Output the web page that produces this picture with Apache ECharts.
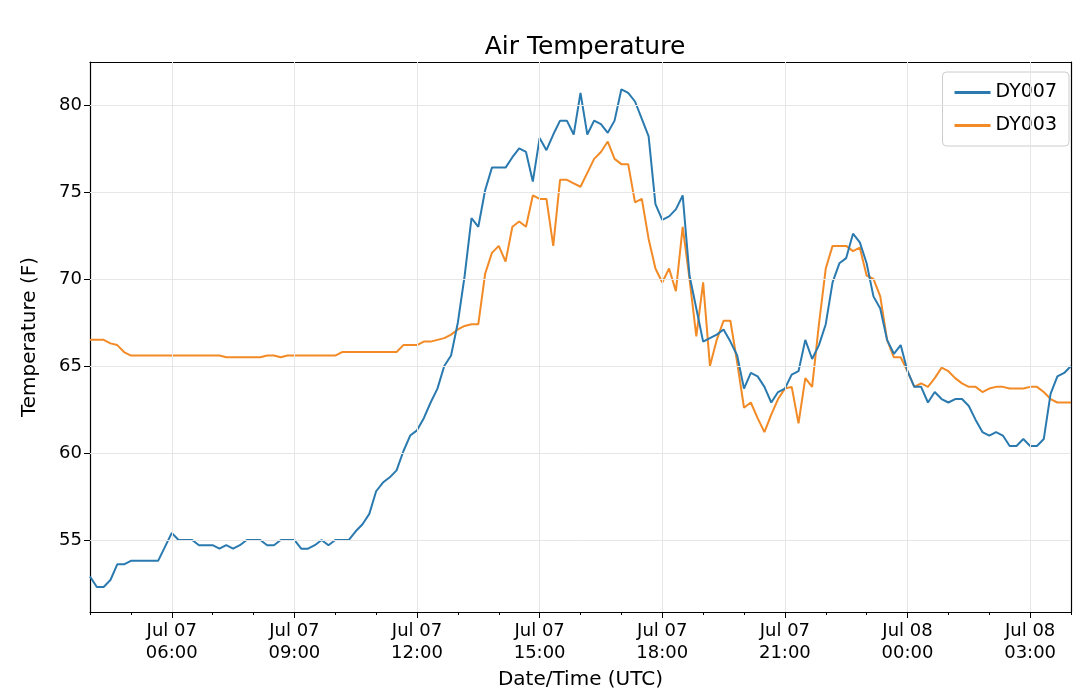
<!DOCTYPE html>
<html><head><meta charset="utf-8">
<script src="https://cdn.jsdelivr.net/npm/echarts@6/dist/echarts.min.js"></script>
<style>html,body{margin:0;padding:0;background:#fff}#c{width:1079px;height:697px}</style>
</head><body><div id="c"></div>
<script>
// 10-minute samples from Jul 07 04:00 to Jul 08 04:00 UTC (x in hours since Jul 07 00:00)
const startHour = 4, stepHours = 1/6;
const xTicks = [6, 9, 12, 15, 18, 21, 24, 27];
const xTickLabels = ['Jul 07\n06:00','Jul 07\n09:00','Jul 07\n12:00','Jul 07\n15:00','Jul 07\n18:00','Jul 07\n21:00','Jul 08\n00:00','Jul 08\n03:00'];
const yTicks = [55, 60, 65, 70, 75, 80];
const dy007 = [52.9,52.3,52.3,52.7,53.6,53.6,53.8,53.8,53.8,53.8,53.8,54.6,
 55.4,55.0,55.0,55.0,54.7,54.7,54.7,54.5,54.7,54.5,54.7,55.0,55.0,55.0,54.7,54.7,55.0,55.0,
 55.0,54.5,54.5,54.7,55.0,54.7,55.0,55.0,55.0,55.5,55.9,56.5,57.8,58.3,58.6,59.0,60.1,61.0,
 61.3,62.0,62.9,63.7,65.0,65.6,67.5,70.2,73.5,73.0,75.1,76.4,76.4,76.4,77.0,77.5,77.3,75.6,
 78.1,77.4,78.3,79.1,79.1,78.3,80.7,78.3,79.1,78.9,78.4,79.1,80.9,80.7,80.2,79.2,78.2,74.3,
 73.4,73.6,74.0,74.8,70.2,68.3,66.4,66.6,66.8,67.1,66.4,65.6,63.7,64.6,64.4,63.8,62.9,63.5,
 63.7,64.5,64.7,66.5,65.4,66.2,67.4,69.8,70.9,71.2,72.6,72.1,70.9,69.0,68.3,66.5,65.7,66.2,
 64.7,63.8,63.8,62.9,63.5,63.1,62.9,63.1,63.1,62.7,61.9,61.2,61.0,61.2,61.0,60.4,60.4,60.8,
 60.4,60.4,60.8,63.4,64.4,64.6,65.0];
const dy003 = [66.5,66.5,66.5,66.3,66.2,65.8,
 65.6,65.6,65.6,65.6,65.6,65.6,65.6,65.6,65.6,65.6,65.6,65.6,65.6,65.6,
 65.5,65.5,65.5,65.5,65.5,65.5,65.6,65.6,65.5,65.6,
 65.6,65.6,65.6,65.6,65.6,65.6,65.6,
 65.8,65.8,65.8,65.8,65.8,65.8,65.8,65.8,65.8,
 66.2,66.2,66.2,66.4,66.4,66.5,66.6,66.8,67.1,67.3,67.4,67.4,
 70.3,71.5,71.9,71.0,73.0,73.3,73.0,74.8,74.6,74.6,71.9,75.7,75.7,75.5,75.3,76.1,76.9,77.3,77.9,
 76.9,76.6,76.6,74.4,74.6,72.3,70.6,69.8,70.6,69.3,73.0,70.0,66.7,69.8,65.0,66.5,67.6,67.6,
 65.2,62.6,62.9,62.0,61.2,62.2,63.1,63.7,63.8,61.7,64.3,63.8,67.4,70.6,71.9,71.9,71.9,71.6,
 71.8,70.2,70.0,69.0,66.5,65.5,65.5,64.7,63.8,64.0,63.8,64.3,64.9,64.7,64.3,64.0,63.8,63.8,
 63.5,63.7,63.8,63.8,63.7,63.7,63.7,63.8,63.8,63.5,63.1,62.9,62.9,62.9];
const toPts = a => a.map((v,i)=>[startHour + i*stepHours, v]);
const labelMap = {}; xTicks.forEach((t,i)=>labelMap[t]=xTickLabels[i]);
const F = 'DejaVu Sans';
const chart = echarts.init(document.getElementById('c'));
const xBase = {type:'value', min:4, max:28, gridIndex:0};
chart.setOption({
  animation:false,
  title:{text:'Air Temperature', left:580, top:30, textAlign:'center',
    textStyle:{fontFamily:F, fontSize:25, fontWeight:'normal', color:'#000'}},
  legend:{right:10, top:72, orient:'vertical', itemWidth:36, itemHeight:3, itemGap:14,
    padding:[11,12,11,12], borderColor:'#ccc', borderWidth:1, borderRadius:4,
    icon:'rect', textStyle:{fontFamily:F, fontSize:19, color:'#000'},
    data:['DY007','DY003']},
  grid:{left:90, right:8, top:62, bottom:85},
  xAxis:[
    Object.assign({}, xBase, {
      name:'Date/Time (UTC)', nameLocation:'middle', nameGap:58,
      nameTextStyle:{fontFamily:F, fontSize:20, color:'#000'},
      axisLine:{show:true, onZero:false, lineStyle:{color:'#000', width:1.2}},
      axisTick:{show:true, length:6, customValues:xTicks, lineStyle:{color:'#000'}},
      axisLabel:{customValues:xTicks, fontFamily:F, fontSize:18, color:'#000', lineHeight:22,
        formatter:v=>labelMap[v]||''},
      splitLine:{show:false}
    }),
    Object.assign({}, xBase, {
      interval:1, position:'bottom',
      axisLine:{show:false}, axisLabel:{show:false},
      axisTick:{show:true, length:3, lineStyle:{color:'#000'}},
      splitLine:{show:false}
    }),
    Object.assign({}, xBase, {
      position:'top',
      axisLine:{show:true, lineStyle:{color:'#000', width:1.2}},
      axisLabel:{show:false}, axisTick:{show:false},
      splitLine:{show:false}
    })
  ],
  yAxis:[{
    type:'value', min:50.86, max:82.47,
    name:'Temperature (F)', nameLocation:'middle', nameGap:50,
    nameTextStyle:{fontFamily:F, fontSize:20, color:'#000'},
    axisLine:{show:true, lineStyle:{color:'#000', width:1.2}},
    axisTick:{show:true, length:6, customValues:yTicks, lineStyle:{color:'#000'}},
    axisLabel:{customValues:yTicks, fontFamily:F, fontSize:18, color:'#000'},
    splitLine:{show:false}
  },{
    type:'value', min:50.86, max:82.47, position:'right',
    axisLine:{show:true, lineStyle:{color:'#000', width:1.2}},
    axisTick:{show:false}, axisLabel:{show:false}, splitLine:{show:false}
  }],
  series:[
    {name:'DY007', type:'line', data:toPts(dy007), showSymbol:false, color:'#2a7ab0',
     lineStyle:{width:2}, z:3,
     markLine:{silent:true, symbol:'none', label:{show:false},
       lineStyle:{color:'#e6e6e6', width:1, type:'solid'}, animation:false,
       data:[...xTicks.map(t=>({xAxis:t})), ...yTicks.map(t=>({yAxis:t}))]}},
    {name:'DY003', type:'line', data:toPts(dy003), showSymbol:false, color:'#f28a26',
     lineStyle:{width:2}, z:2}
  ]
});
</script></body></html>
